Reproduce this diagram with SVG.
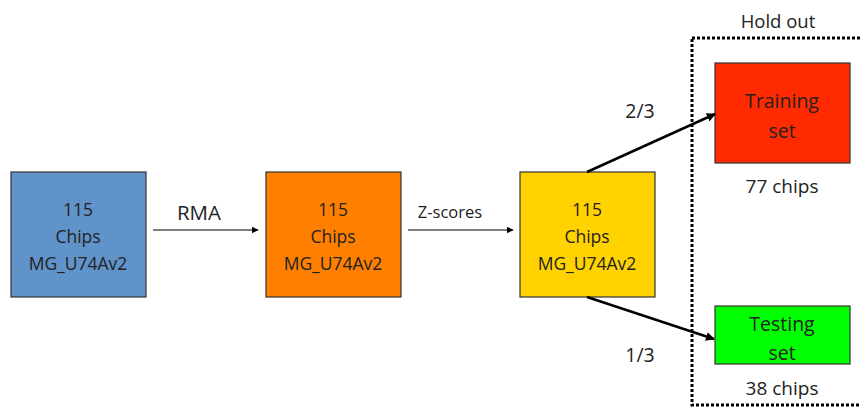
<svg xmlns="http://www.w3.org/2000/svg" width="861" height="408" viewBox="0 0 861 408">
<style>
text{font-family:"Open Sans","Liberation Sans",sans-serif;fill:#222;text-anchor:middle}
.n{font-size:17.5px}
.b{stroke:#333;stroke-width:1.2}
.c{stroke:#000;fill:none}
</style>
<defs>
<marker id="ah" viewBox="0 0 10 10" refX="9" refY="5" markerWidth="7" markerHeight="7" markerUnits="userSpaceOnUse" orient="auto"><path d="M0,0L10,5L0,10z" fill="#000"/></marker>
<marker id="ah2" viewBox="0 0 10 10" refX="9" refY="5" markerWidth="9" markerHeight="9" markerUnits="userSpaceOnUse" orient="auto"><path d="M0,0L10,5L0,10z" fill="#000"/></marker>
</defs>
<rect x="692" y="38" width="175" height="367" fill="none" stroke="#000" stroke-width="3" stroke-dasharray="3,2"/>
<text x="778" y="28" font-size="18.5">Hold out</text>
<g id="raw"><rect class="b" x="11" y="172" width="135" height="125" fill="#5F93C9"/>
<text class="n" x="78" y="216">115</text><text class="n" x="78" y="243">Chips</text><text class="n" x="78" y="270">MG_U74Av2</text></g>
<g id="rma"><rect class="b" x="266" y="172" width="135" height="125" fill="#FF7F00"/>
<text class="n" x="333" y="216">115</text><text class="n" x="333" y="243">Chips</text><text class="n" x="333" y="270">MG_U74Av2</text></g>
<g id="z"><rect class="b" x="520" y="172" width="135" height="125" fill="#FFD200"/>
<text class="n" x="587" y="216">115</text><text class="n" x="587" y="243">Chips</text><text class="n" x="587" y="270">MG_U74Av2</text></g>
<g id="train"><rect class="b" x="715" y="63" width="135" height="100" fill="#FF2A00"/>
<text x="782" y="108" font-size="19.5">Training</text><text x="782" y="138" font-size="19.5">set</text>
<text x="782" y="193" font-size="19">77 chips</text></g>
<g id="test"><rect class="b" x="715" y="306" width="135" height="58" fill="#00FF00"/>
<text x="782" y="331" font-size="19.5">Testing</text><text x="782" y="360" font-size="19.5">set</text>
<text x="782" y="395" font-size="19">38 chips</text></g>
<g id="connectors">
<line class="c" x1="153" y1="230" x2="258" y2="230" stroke-width="1.2" marker-end="url(#ah)"/>
<line class="c" x1="408" y1="230" x2="513" y2="230" stroke-width="1.2" marker-end="url(#ah)"/>
<line class="c" x1="587" y1="172" x2="715" y2="114" stroke-width="2.5" marker-end="url(#ah2)"/>
<line class="c" x1="587" y1="297" x2="714" y2="339" stroke-width="2.5" marker-end="url(#ah2)"/>
</g>
<text x="199" y="220" font-size="20.5">RMA</text>
<text x="450" y="218" font-size="16.5">Z-scores</text>
<text x="640" y="118" font-size="19.5">2/3</text>
<text x="640" y="362" font-size="19.5">1/3</text>
</svg>
